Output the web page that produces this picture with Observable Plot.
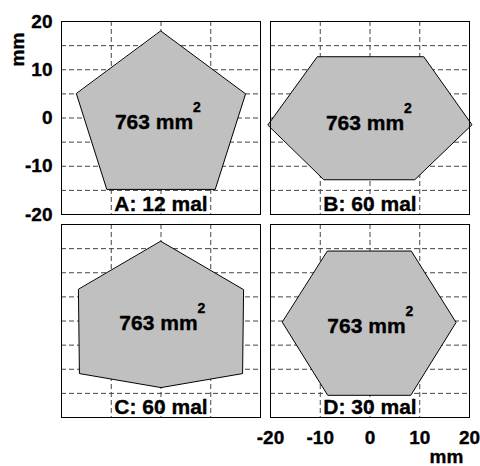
<!DOCTYPE html>
<html>
<head>
<meta charset="utf-8">
<script src="https://cdn.jsdelivr.net/npm/d3@7"></script>
<script src="https://cdn.jsdelivr.net/npm/@observablehq/plot@0.6"></script>
<style>
  html, body { margin: 0; padding: 0; background: #fff; }
  #chart svg { display: block; }
</style>
</head>
<body>
<div id="chart"></div>
<script>
// Four cross-sections of equal area (mm²), one per panel
const panelIds = ["A", "B", "C", "D"];
const panelCols = ["L", "R", "L", "R"];
const panelRows = ["T", "T", "B", "B"];
const repeatCounts = [12, 60, 60, 30];
const areaMm2 = [763, 763, 763, 763];

// Polygon vertices in mm
const shapeX = [
  [0, 17, 10.9, -10.9, -17],
  [-20.5, -10.6, 10.8, 20.5, 9, -9.2],
  [0, 16.6, 16.4, 0, -16.4, -16.6],
  [-8.5, 8.3, 17.3, 8.2, -8.5, -17.6]
];
const shapeY = [
  [18, 5, -14.8, -14.8, 5],
  [-1.4, 12.7, 12.7, -1.4, -12.8, -12.8],
  [16.5, 6.5, -10.9, -13.8, -10.9, 6.5],
  [14.5, 14.5, -0.3, -15.4, -15.4, -0.3]
];

// Where the area label sits inside each shape (mm)
const labelX = [0, 0.4, 0.9, 0.7];
const labelY = [-0.8, -1, -0.4, -1.1];

const axisTicks = [-20, -10, 0, 10, 20];
const gridXTicks = [-10, 0, 10];
const gridYTicks = [-15, -10, -5, 0, 5, 10, 15];

const panels = panelIds.map((id, i) => ({
  id, col: panelCols[i], row: panelRows[i],
  count: repeatCounts[i], area: areaMm2[i],
  lx: labelX[i], ly: labelY[i]
}));
const vertices = panels.flatMap((p, i) =>
  shapeX[i].map((x, j) => ({id: p.id, col: p.col, row: p.row, x, y: shapeY[i][j]}))
);

const font = "'Liberation Sans', Arial, Helvetica, sans-serif";
const inA = {fx: () => "L", fy: () => "T"};
const inD = {fx: () => "R", fy: () => "B"};
// solid black glyphs with a hairline outline for a heavier bold
const ink = {fill: "#000", stroke: "#000", strokeWidth: 0.35};

const chart = Plot.plot({
  width: 480,
  height: 466,
  marginLeft: 61,
  marginRight: 11,
  marginTop: 20,
  marginBottom: 48,
  style: {fontFamily: font, fontWeight: "bold", color: "#000", background: "#fff"},
  x: {domain: [-20, 20], axis: null},
  y: {domain: [-20, 20], axis: null},
  fx: {domain: ["L", "R"], paddingInner: 0.048, paddingOuter: 0, axis: null, label: null},
  fy: {domain: ["T", "B"], paddingInner: 0.049, paddingOuter: 0, axis: null, label: null},
  marks: [
    Plot.gridX(gridXTicks, {stroke: "#444", strokeOpacity: 1, strokeDasharray: "5,3"}),
    Plot.gridY(gridYTicks, {stroke: "#444", strokeOpacity: 1, strokeDasharray: "5,3"}),
    Plot.line(vertices, {
      x: "x", y: "y", z: "id", fx: "col", fy: "row",
      curve: "linear-closed", fill: "#c0c0c0", stroke: "#000", strokeWidth: 1
    }),
    Plot.frame({stroke: "#000"}),
    // area label with superscript
    Plot.text(panels, {
      x: "lx", y: "ly", fx: "col", fy: "row", ...ink,
      text: d => `${d.area} mm`, fontSize: 21, dx: -7
    }),
    Plot.text(panels, {
      x: "lx", y: "ly", fx: "col", fy: "row", ...ink,
      text: () => "2", fontSize: 14, dx: 32, dy: -9.9,
      textAnchor: "start", lineAnchor: "bottom"
    }),
    // panel captions
    Plot.text(panels, {
      x: () => 0, fx: "col", fy: "row", frameAnchor: "bottom", ...ink,
      text: d => `${d.id}: ${d.count} mal`, fontSize: 21,
      textAnchor: "middle", lineAnchor: "bottom", dy: -4
    }),
    // y axis (top-left panel only)
    Plot.text(axisTicks, {
      ...inA, y: d => d, text: d => String(d), frameAnchor: "left", ...ink,
      textAnchor: "end", lineAnchor: "middle", dx: -9, fontSize: 19
    }),
    Plot.text(["mm"], {
      ...inA, text: d => d, frameAnchor: "top-left", ...ink,
      textAnchor: "middle", lineAnchor: "middle",
      rotate: -90, dx: -44, dy: 28, fontSize: 19
    }),
    // x axis (bottom-right panel only)
    Plot.text(axisTicks, {
      ...inD, x: d => d, text: d => String(d), frameAnchor: "bottom", ...ink,
      textAnchor: "middle", lineAnchor: "middle", dy: 20, fontSize: 19
    }),
    Plot.text(["mm"], {
      ...inD, text: d => d, frameAnchor: "bottom-right", ...ink,
      textAnchor: "middle", lineAnchor: "middle", dx: -23, dy: 39, fontSize: 19
    })
  ]
});

document.getElementById("chart").appendChild(chart);
</script>
</body>
</html>
